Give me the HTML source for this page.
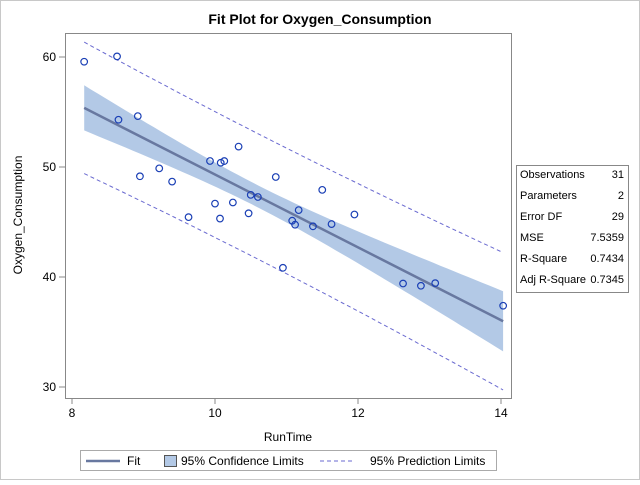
<!DOCTYPE html>
<html><head><meta charset="utf-8"><style>
body{margin:0;background:#fff;font-family:"Liberation Sans",Arial,sans-serif}
svg text{font-family:"Liberation Sans",Arial,sans-serif}
</style></head><body>
<svg id="c" width="640" height="480" viewBox="0 0 640 480">
<rect x="0.5" y="0.5" width="639" height="479" fill="#fff" stroke="#c8c8c8"/>
<text x="320" y="24" text-anchor="middle" font-size="14" font-weight="bold">Fit Plot for Oxygen_Consumption</text>
<g id="plot"></g>
<g font-size="11">
<rect x="516.5" y="165.5" width="112" height="127" fill="#fff" stroke="#888"/>
<text x="520" y="178">Observations</text><text x="624" y="178" text-anchor="end">31</text>
<text x="520" y="199">Parameters</text><text x="624" y="199" text-anchor="end">2</text>
<text x="520" y="220">Error DF</text><text x="624" y="220" text-anchor="end">29</text>
<text x="520" y="241">MSE</text><text x="624" y="241" text-anchor="end">7.5359</text>
<text x="520" y="262">R-Square</text><text x="624" y="262" text-anchor="end">0.7434</text>
<text x="520" y="283">Adj R-Square</text><text x="624" y="283" text-anchor="end">0.7345</text>
</g>
<g font-size="12">
<rect x="80.5" y="450.5" width="416" height="20" fill="#fff" stroke="#aaa"/>
<line x1="86" y1="461" x2="120" y2="461" stroke="#6878a0" stroke-width="2.5"/>
<text x="127" y="465">Fit</text>
<rect x="164.5" y="455.5" width="12" height="11" fill="#b3c9e6" stroke="#555"/>
<text x="181" y="465">95% Confidence Limits</text>
<line x1="320" y1="461" x2="355" y2="461" stroke="#6a6ad0" stroke-dasharray="4,3"/>
<text x="370" y="465">95% Prediction Limits</text>
</g>
</svg>
<script>
const runTime=[11.37,10.07,8.65,8.17,9.22,11.63,11.95,10.85,13.08,8.63,10.13,14.03,11.12,10.60,10.33,8.95,10.95,10.00,10.25,10.08,12.63,11.17,9.63,8.92,11.08,12.88,10.47,9.93,9.40,11.50,10.50];
const oxygen=[44.609,45.313,54.297,59.571,49.874,44.811,45.681,49.091,39.442,60.055,50.541,37.388,44.754,47.273,51.855,49.156,40.836,46.672,46.774,50.388,39.407,46.080,45.441,54.625,45.118,39.203,45.790,50.545,48.673,47.920,47.467];
const xTicks=[8,10,12,14];
const yTicks=[30,40,50,60];
const NS="http://www.w3.org/2000/svg";
const X=v=>72+(v-8)*(501-72)/6;
const Y=v=>387-(v-30)*(387-57)/30;
const g=document.getElementById('plot');
function el(t,a){const e=document.createElementNS(NS,t);for(const k in a)e.setAttribute(k,a[k]);g.appendChild(e);return e;}
// regression
const n=runTime.length;
const mx=runTime.reduce((a,b)=>a+b)/n, my=oxygen.reduce((a,b)=>a+b)/n;
let sxx=0,sxy=0;for(let i=0;i<n;i++){sxx+=(runTime[i]-mx)**2;sxy+=(runTime[i]-mx)*(oxygen[i]-my);}
const b=sxy/sxx,a0=my-b*mx;
let sse=0;for(let i=0;i<n;i++)sse+=(oxygen[i]-a0-b*runTime[i])**2;
const s=Math.sqrt(sse/(n-2)),t=2.045;
const xmin=Math.min(...runTime),xmax=Math.max(...runTime);
const xs=[];for(let i=0;i<=60;i++)xs.push(xmin+(xmax-xmin)*i/60);
const fit=x=>a0+b*x, ci=x=>t*s*Math.sqrt(1/n+(x-mx)**2/sxx), pi=x=>t*s*Math.sqrt(1+1/n+(x-mx)**2/sxx);
// frame
const fr=el('rect',{x:65.5,y:33.5,width:446,height:365,fill:'none',stroke:'#888'});


// band
let d=xs.map((x,i)=>(i?'L':'M')+X(x).toFixed(1)+','+Y(fit(x)+ci(x)).toFixed(1)).join('')+xs.slice().reverse().map(x=>'L'+X(x).toFixed(1)+','+Y(fit(x)-ci(x)).toFixed(1)).join('')+'Z';
const band=el('path',{d:d,fill:'#b3c9e6'});


[1,-1].forEach(sg=>{
 const p=el('path',{d:xs.map((x,i)=>(i?'L':'M')+X(x).toFixed(1)+','+Y(fit(x)+sg*pi(x)).toFixed(1)).join(''),fill:'none',stroke:'#6a6ad0','stroke-dasharray':'4,3'});
 
 
});
const fl=el('line',{x1:X(xmin),y1:Y(fit(xmin)),x2:X(xmax),y2:Y(fit(xmax)),stroke:'#6878a0','stroke-width':2.5});


for(let i=0;i<n;i++){
 const c=el('circle',{cx:X(runTime[i]),cy:Y(oxygen[i]),r:3.3,fill:'none',stroke:'#1a3fb5','stroke-width':1.2});
 
 
}
xTicks.forEach(v=>{
 el('line',{x1:X(v),y1:398,x2:X(v),y2:404,stroke:'#888'});
 const tx=el('text',{x:X(v),y:417,'text-anchor':'middle','font-size':12});tx.textContent=v;
 
 
});
yTicks.forEach(v=>{
 el('line',{x1:59,y1:Y(v),x2:65,y2:Y(v),stroke:'#888'});
 const tx=el('text',{x:56,y:Y(v)+4,'text-anchor':'end','font-size':12});tx.textContent=v;
 
 
});
const xt=el('text',{x:288,y:441,'text-anchor':'middle','font-size':12});xt.textContent='RunTime';


const yt=el('text',{x:22,y:215,'text-anchor':'middle','font-size':12,transform:'rotate(-90 22 215)'});yt.textContent='Oxygen_Consumption';


</script>
</body></html>
